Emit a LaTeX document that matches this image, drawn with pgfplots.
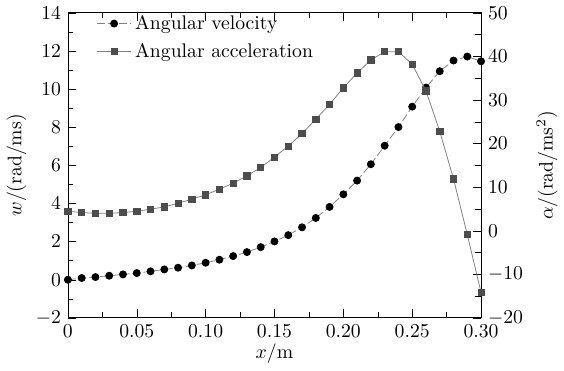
\documentclass[border=0pt]{standalone}
\usepackage{pgfplots}
\pgfplotsset{compat=1.18}
\definecolor{sqfill}{HTML}{4D4D4D}
\definecolor{lnc}{HTML}{808080}
\begin{document}
\begin{tikzpicture}
\pgfplotsset{every axis/.append style={scale only axis, width=210pt, height=155pt,
  xmin=0, xmax=0.30, tick style={black}, minor tick num=1}}
\begin{axis}[
  ymin=-2, ymax=14,
  ytick={-2,0,2,4,6,8,10,12,14},
  xtick={0,0.05,0.10,0.15,0.20,0.25,0.30},
  xticklabels={0,0.05,0.10,0.15,0.20,0.25,0.30},
  ytick pos=left, xtick pos=both,
  xlabel={$x$/m}, ylabel={$w$/(rad/ms)},
  xlabel style={yshift=4pt},
  ylabel style={yshift=-2pt},
]
\addplot[lnc, thin, dash pattern=on 4pt off 1.5pt, mark=*, mark size=1.8pt, mark options={solid, fill=black, draw=black}] coordinates {
(0.00,0.00)(0.01,0.09)(0.02,0.14)(0.03,0.21)(0.04,0.28)(0.05,0.35)(0.06,0.44)(0.07,0.54)(0.08,0.63)(0.09,0.75)
(0.10,0.89)(0.11,1.05)(0.12,1.24)(0.13,1.45)(0.14,1.71)(0.15,2.01)(0.16,2.34)(0.17,2.75)(0.18,3.24)(0.19,3.82)
(0.20,4.48)(0.21,5.20)(0.22,6.06)(0.23,7.03)(0.24,8.01)(0.25,9.08)(0.26,10.08)(0.27,10.94)(0.28,11.50)(0.29,11.71)(0.30,11.46)
};
\end{axis}
\begin{axis}[
  ymin=-20, ymax=50,
  ytick={-20,-10,0,10,20,30,40,50},
  axis y line*=right, axis x line=none,
  ylabel={$\alpha$/(rad/ms$^2$)},
  legend style={at={(0.055,1.02)}, anchor=north west, draw=none, fill=none, row sep=1.5pt, font=\normalsize},
  legend cell align=left,
]
\addlegendimage{lnc, thin, dash pattern=on 4pt off 1.5pt, mark=*, mark size=1.8pt, mark options={solid, fill=black, draw=black}}
\addlegendentry{Angular velocity}
\addplot[lnc, thin, mark=square*, mark size=1.6pt, mark options={fill=sqfill, draw=sqfill}] coordinates {
(0.00,4.48)(0.01,4.16)(0.02,4.0)(0.03,4.0)(0.04,4.16)(0.05,4.48)(0.06,4.94)(0.07,5.47)(0.08,6.3)(0.09,7.25)
(0.10,8.24)(0.11,9.55)(0.12,10.9)(0.13,12.6)(0.14,14.5)(0.15,16.9)(0.16,19.4)(0.17,22.3)(0.18,25.6)(0.19,29.0)
(0.20,32.8)(0.21,36.2)(0.22,39.2)(0.23,41.1)(0.24,41.1)(0.25,38.2)(0.26,32.1)(0.27,22.8)(0.28,11.9)(0.29,-0.9)(0.30,-14.2)
};
\addlegendentry{Angular acceleration}
\end{axis}
\end{tikzpicture}
\end{document}
